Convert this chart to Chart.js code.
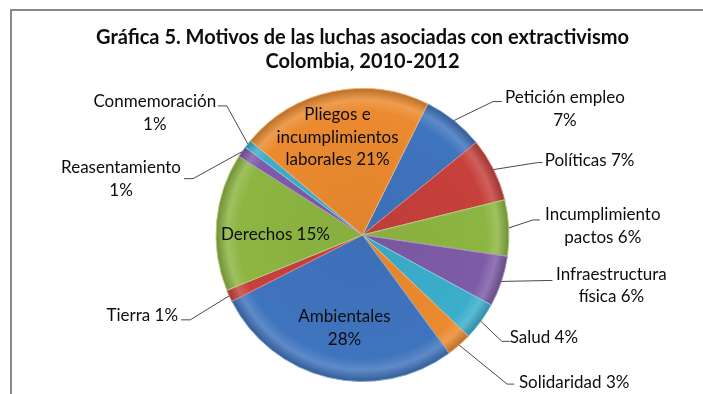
<!DOCTYPE html>
<html>
<head>
<meta charset="utf-8">
<script src="https://cdn.jsdelivr.net/npm/chart.js@4.4.1/dist/chart.umd.min.js"></script>
<style>
  html, body { margin: 0; padding: 0; background: #fff; }
  #wrap { width: 703px; height: 394px; position: relative; }
</style>
</head>
<body>
<div id="wrap"><canvas id="pie"></canvas></div>
<script>
// data (clockwise, starting at the slice right of the top)
const titleLines = ['Gráfica 5. Motivos de las luchas asociadas con extractivismo', 'Colombia, 2010-2012'];
const categories = ['Petición empleo', 'Políticas', 'Incumplimiento pactos', 'Infraestructura física', 'Salud',
  'Solidaridad', 'Ambientales', 'Tierra', 'Derechos', 'Reasentamiento', 'Conmemoración', 'Pliegos e incumplimientos laborales'];
const shares = [6.8, 7.0, 6.2, 5.6, 4.2, 2.8, 27.6, 1.3, 15.2, 1.2, 0.9, 21.2];

// styling
const sliceColors = ['#3F74BE', '#C7403B', '#8DB542', '#7D5BA6', '#3BAECC', '#EB8A2F',
  '#3F74BE', '#C7403B', '#8DB542', '#7D5BA6', '#3BAECC', '#EB8A2F'];
const FONT = 'Lato, "Liberation Sans", sans-serif';
const firstSliceAngle = 26.4;

// label layout: inside labels offset from pie centre, outside labels from the slice's rim point
// brk = word counts per line; t = text offset of first line; e = elbow; f = end of leader
const labelLayout = [
  { brk: [2], t: [111, -23], e: [39, -19], f: [48, -19] },
  { brk: [], t: [96, -9], e: [44, -7], f: [49, -7] },
  { brk: [1], t: [94, -13], e: [24, -8], f: [31, -8] },
  { brk: [1], t: [110, -7], e: [51, -1], f: [51, -1] },
  { brk: [], t: [63, 16], e: [21, 20], f: [29, 20] },
  { brk: [], t: [115, 37], e: [48, 39], f: [55, 39] },
  { inside: true, brk: [1], t: [-18, 82] },
  { brk: [], t: [-87, 20], e: [-39, 24], f: [-48, 24] },
  { inside: true, brk: [], t: [-87, 0] },
  { brk: [1], t: [-121, 16], e: [-49, 27], f: [-58, 27] },
  { brk: [1], t: [-93, -42], e: [-21, -38], f: [-30, -38] },
  { inside: true, brk: [2, 1], t: [-25, -120] },
];

function shade(hex, f) {
  const n = parseInt(hex.slice(1), 16);
  let r = n >> 16, g = (n >> 8) & 255, b = n & 255;
  const t = f < 0 ? 0 : 255, p = Math.abs(f);
  r = Math.round(r + (t - r) * p); g = Math.round(g + (t - g) * p); b = Math.round(b + (t - b) * p);
  return `rgb(${r},${g},${b})`;
}

function bevelFill(ctx) {
  const base = sliceColors[ctx.dataIndex];
  const area = ctx.chart.chartArea;
  if (!area) return base;
  const cx = (area.left + area.right) / 2, cy = (area.top + area.bottom) / 2;
  const r = Math.min(area.right - area.left, area.bottom - area.top) / 2;
  const g = ctx.chart.ctx.createRadialGradient(cx, cy, 0, cx, cy, r);
  g.addColorStop(0, shade(base, -0.04));
  g.addColorStop(0.84, base);
  g.addColorStop(0.92, shade(base, 0.16));
  g.addColorStop(1, shade(base, -0.22));
  return g;
}

function lineSplit(text, brk) {
  const words = text.split(' ');
  const out = [];
  let i = 0;
  brk.forEach(n => { out.push(words.slice(i, i + n).join(' ')); i += n; });
  out.push(words.slice(i).join(' '));
  return out;
}

const frame = {
  id: 'frame',
  beforeDraw(chart) {
    const c = chart.ctx;
    c.save();
    c.fillStyle = '#fff';
    c.fillRect(0, 0, chart.width, chart.height);
    c.strokeStyle = '#8a8a8a';
    c.lineWidth = 2;
    c.strokeRect(11, 10, 1000, 1000);
    c.restore();
  }
};

const sliceLabels = {
  id: 'sliceLabels',
  afterDatasetsDraw(chart) {
    const c = chart.ctx;
    const total = shares.reduce((a, b) => a + b, 0);
    const arcs = chart.getDatasetMeta(0).data;
    c.save();
    c.font = `17px ${FONT}`;
    c.textAlign = 'center';
    c.textBaseline = 'middle';
    arcs.forEach((arc, i) => {
      const L = labelLayout[i];
      const { x, y, startAngle, endAngle, outerRadius } = arc.getProps(['x', 'y', 'startAngle', 'endAngle', 'outerRadius'], true);
      const mid = (startAngle + endAngle) / 2;
      const text = `${categories[i]} ${Math.round(shares[i] / total * 100)}%`;
      const lines = lineSplit(text, L.brk);
      let ox = x, oy = y;
      if (!L.inside) {
        ox = x + Math.cos(mid) * outerRadius;
        oy = y + Math.sin(mid) * outerRadius;
        c.strokeStyle = '#4a4a4a';
        c.lineWidth = 1;
        c.beginPath();
        c.moveTo(ox, oy);
        c.lineTo(ox + L.e[0], oy + L.e[1]);
        c.lineTo(ox + L.f[0], oy + L.f[1]);
        c.stroke();
      }
      c.fillStyle = '#0d0d0d';
      lines.forEach((ln, k) => c.fillText(ln, ox + L.t[0], oy + L.t[1] + k * 22.5));
    });
    c.restore();
  }
};

new Chart(document.getElementById('pie'), {
  type: 'pie',
  data: {
    labels: categories,
    datasets: [{
      data: shares,
      backgroundColor: bevelFill,
      borderColor: sliceColors.map(col => shade(col, 0.35)),
      borderWidth: 1,
    }]
  },
  options: {
    responsive: true,
    maintainAspectRatio: false,
    animation: false,
    events: [],
    rotation: firstSliceAngle,
    layout: { padding: { left: 22, right: 0, top: 0, bottom: 12 } },
    plugins: {
      legend: { display: false },
      tooltip: { enabled: false },
      title: {
        display: true,
        text: titleLines,
        color: '#0d0d0d',
        font: { family: FONT, size: 20, weight: 'bold', lineHeight: 24 / 20 },
        padding: { top: 26, bottom: 14 },
      },
    },
  },
  plugins: [frame, sliceLabels],
});
</script>
</body>
</html>
